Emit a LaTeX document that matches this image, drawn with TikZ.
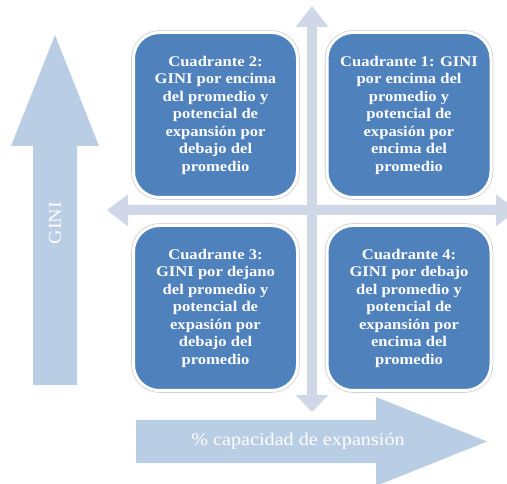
\documentclass[tikz,border=0pt]{standalone}
\usepackage{fontspec}
\setmainfont{Liberation Serif}[FakeStretch=1.12]
\definecolor{boxblue}{HTML}{4F81BD}
\definecolor{bigarrow}{HTML}{B9CDE5}
\definecolor{crossarrow}{HTML}{D0D8E8}
\tikzset{
  quad/.style={rectangle, rounded corners=26pt, fill=boxblue, draw=white, line width=3pt,
    preaction={draw=black!18, line width=4.6pt},
    minimum width=164pt, minimum height=165pt, inner sep=0pt,
    text=white, align=center, font=\bfseries\fontsize{14.8}{17.5}\selectfont},
  axislabel/.style={text=white, font=\fontsize{18}{20}\selectfont, inner sep=0pt}
}
\begin{document}
\begin{tikzpicture}[x=1pt,y=-1pt]
\useasboundingbox (0,0) rectangle (507,484);
% big GINI arrow
\fill[bigarrow] (33,385) -- (33,146) -- (11,146) -- (55,35) -- (99,146) -- (77,146) -- (77,385) -- cycle;
\node[axislabel, rotate=90] (gini) at (55,223) {GINI};
% big horizontal arrow
\fill[bigarrow] (136,420) -- (376,420) -- (376,397) -- (487,441.5) -- (376,486) -- (376,463) -- (136,463) -- cycle;
\node[axislabel] (cap) at (298,441) {\% capacidad de expansión};
% cross arrows
\fill[crossarrow] (307,27) -- (295.5,27) -- (312,6) -- (328.5,27) -- (317,27) -- (317,395) -- (328.5,395) -- (312,412) -- (295.5,395) -- (307,395) -- cycle;
\fill[crossarrow] (128,205) -- (128,194.5) -- (107,210) -- (128,226.5) -- (128,215) -- (496,215) -- (496,226.5) -- (517,210) -- (496,194.5) -- (496,205) -- cycle;
% quadrants
\node[quad] (q2) at (215.5,115) {Cuadrante 2:\\GINI por encima\\del promedio y\\potencial de\\expansión por\\debajo del\\promedio};
\node[quad] (q1) at (409,115) {Cuadrante 1: GINI\\por encima del\\promedio y\\potencial de\\expasión por\\encima del\\promedio};
\node[quad] (q3) at (215.5,308) {Cuadrante 3:\\GINI por dejano\\del promedio y\\potencial de\\expasión por\\debajo del\\promedio};
\node[quad] (q4) at (409,308) {Cuadrante 4:\\GINI por debajo\\del promedio y\\potencial de\\expansión por\\encima del\\promedio};
\end{tikzpicture}
\end{document}
